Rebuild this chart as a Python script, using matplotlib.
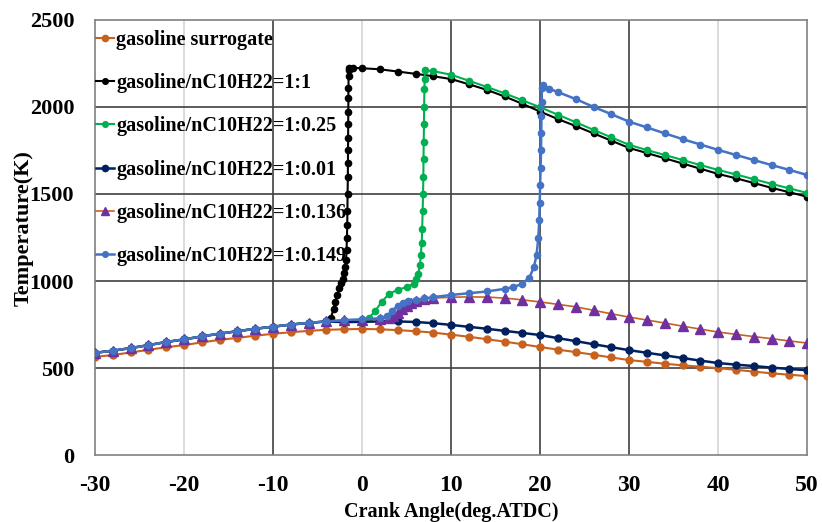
import matplotlib
matplotlib.use("Agg")
import matplotlib.pyplot as plt

# crank angle (deg ATDC) / temperature (K)
base_x = [-30, -28, -26, -24, -22, -20, -18, -16, -14, -12, -10, -8, -6, -4]
base_y = [588, 600, 615, 632, 650, 665, 682, 698, 712, 726, 738, 750, 760, 768]

sur_x = [-30, -28, -26, -24, -22, -20, -18, -16, -14, -12, -10, -8, -6, -4, -2, 0,
         2, 4, 6, 8, 10, 12, 14, 16, 18, 20, 22, 24, 26, 28, 30, 32, 34, 36, 38,
         40, 42, 44, 46, 48, 50]
sur_y = [565, 575, 590, 605, 620, 632, 648, 662, 674, 686, 697, 706, 714, 720, 723, 725,
         723, 718, 712, 704, 692, 680, 666, 652, 637, 621, 606, 592, 577, 561, 546, 536,
         525, 516, 508, 500, 490, 480, 470, 462, 454]

c1_x = base_x + [-3.5, -3.2, -3, -2.8, -2.6, -2.4, -2.2, -2, -1.9, -1.8, -1.75, -1.7, -1.67,
                 -1.65, -1.63, -1.6, -1.59, -1.58, -1.57, -1.56, -1.55, -1.54, -1.53, -1.52,
                 -1.51, -1.5, -1, 0, 2, 4, 6, 8, 10, 12, 14, 16, 18, 20, 22, 24, 26, 28, 30,
                 32, 34, 36, 38, 40, 42, 44, 46, 48, 50]
c1_y = base_y + [790, 840, 880, 920, 960, 990, 1010, 1045, 1080, 1120, 1180, 1250, 1320,
                 1400, 1500, 1600, 1680, 1750, 1820, 1900, 1970, 2050, 2110, 2180, 2210,
                 2222, 2224, 2222, 2216, 2203, 2190, 2176, 2160, 2130, 2098, 2060, 2018, 1973,
                 1930, 1890, 1848, 1806, 1764, 1735, 1705, 1675, 1645, 1615, 1590, 1563,
                 1535, 1510, 1484]

c025_x = base_x + [-2, 0, 0.8, 1.5, 2.2, 3, 4, 5, 5.8, 6.1, 6.3, 6.5, 6.6, 6.7, 6.75, 6.8,
                   6.85, 6.88, 6.9, 6.92, 6.95, 6.97, 7.0, 7.02, 7.05, 8, 10, 12, 14, 16,
                   18, 20, 22, 24, 26, 28, 30, 32, 34, 36, 38, 40, 42, 44, 46, 48, 50]
c025_y = base_y + [774, 778, 790, 830, 880, 925, 950, 965, 985, 1010, 1040, 1090, 1150, 1220,
                   1300, 1400, 1500, 1600, 1700, 1800, 1900, 2000, 2100, 2160, 2210, 2205,
                   2185, 2150, 2115, 2078, 2038, 1998, 1955, 1912, 1868, 1825, 1782, 1752,
                   1724, 1695, 1666, 1638, 1612, 1585, 1558, 1532, 1506]

c001_x = base_x + [-2, 0, 2, 4, 6, 8, 10, 12, 14, 16, 18, 20, 22, 24, 26, 28, 30, 32, 34,
                   36, 38, 40, 42, 44, 46, 48, 50]
c001_y = base_y + [764, 766, 768, 768, 765, 758, 748, 737, 726, 714, 702, 690, 672, 655, 637,
                   620, 603, 588, 573, 558, 543, 529, 520, 512, 503, 495, 488]

c0136_x = base_x + [-2, 0, 2, 3, 3.5, 4, 4.5, 5, 5.5, 6, 7, 8, 10, 12, 14, 16, 18, 20, 22,
                    24, 26, 28, 30, 32, 34, 36, 38, 40, 42, 44, 46, 48, 50]
c0136_y = base_y + [774, 778, 782, 788, 800, 818, 838, 855, 872, 885, 895, 902, 907, 909, 908,
                    902, 892, 880, 866, 852, 832, 812, 793, 776, 759, 741, 724, 707, 694, 681,
                    669, 656, 644]

c0149_x = base_x + [-2, 0, 2, 2.8, 3.4, 4, 4.6, 5.2, 6, 7, 8, 10, 12, 14, 16, 17, 18, 18.8,
                    19.3, 19.6, 19.8, 19.9, 19.95, 20.0, 20.05, 20.1, 20.12, 20.15, 20.17,
                    20.2, 20.3, 21, 22, 24, 26, 28, 30, 32, 34, 36, 38, 40, 42, 44, 46, 48, 50]
c0149_y = base_y + [776, 780, 786, 800, 830, 858, 875, 885, 892, 900, 908, 920, 930, 940, 955,
                    965, 985, 1020, 1080, 1150, 1250, 1350, 1450, 1550, 1650, 1750, 1850, 1950,
                    2030, 2110, 2126, 2105, 2085, 2045, 2000, 1958, 1915, 1882, 1848, 1815,
                    1784, 1753, 1724, 1695, 1666, 1638, 1609]

labels = ["gasoline surrogate", "gasoline/nC10H22=1:1", "gasoline/nC10H22=1:0.25",
          "gasoline/nC10H22=1:0.01", "gasoline/nC10H22=1:0.136", "gasoline/nC10H22=1:0.149"]

plt.rcParams["font.family"] = ["Liberation Serif", "DejaVu Serif"]
plt.rcParams["font.weight"] = "bold"
plt.rcParams["axes.unicode_minus"] = False

fig = plt.figure(figsize=(8.22, 5.22), dpi=100)
ax = fig.add_axes([0.1156, 0.128, 0.8664, 0.834])

orange = "#C8611E"
ax.plot(sur_x, sur_y, color=orange, marker="o", ms=5, lw=1.5, label=labels[0], zorder=3)
ax.plot(c1_x, c1_y, color="black", marker="o", ms=4.5, lw=1.5, label=labels[1], zorder=3)
ax.plot(c025_x, c025_y, color="#00B050", marker="o", ms=4.5, lw=1.5, label=labels[2], zorder=3)
ax.plot(c001_x, c001_y, color="#002060", marker="o", ms=5, lw=1.8, label=labels[3], zorder=3)
ax.plot(c0136_x, c0136_y, color=orange, marker="^", ms=7, mfc="#7030A0", mec="#7030A0",
        lw=1.2, label=labels[4], zorder=3)
ax.plot(c0149_x, c0149_y, color="#4472C4", marker="o", ms=4.5, lw=1.8, label=labels[5], zorder=4)

ax.set_xlim(-30, 50)
ax.set_ylim(0, 2500)
ax.set_xticks(range(-30, 51, 10))
ax.set_yticks(range(0, 2501, 500))

# gridlines: some of the vertical ones are lighter in the original
for v in [-20, 0, 40]:
    ax.axvline(v, color="#d4d4d4", lw=1.2, zorder=1)
for v in [-10, 10, 20, 30]:
    ax.axvline(v, color="#404040", lw=1.2, zorder=1)
for h in [500, 1000, 1500, 2000]:
    ax.axhline(h, color="#404040", lw=1.2, zorder=1)

for s in ax.spines.values():
    s.set_color("#808080")
    s.set_linewidth(1.2)

ax.tick_params(axis="x", length=0, labelsize=17, pad=14)
ax.tick_params(axis="y", length=0, labelsize=16, pad=15)
for t in ax.get_xticklabels() + ax.get_yticklabels():
    t.set_fontweight("bold")
ax.set_xlabel("Crank Angle(deg.ATDC)", fontsize=14.5, fontweight="bold", va="center")
ax.set_ylabel("Temperature(K)", fontsize=16, fontweight="bold", va="center")
ax.xaxis.set_label_coords(0.5, -0.131)
ax.yaxis.set_label_coords(-0.1, 0.522)

ax.legend(loc="upper left", bbox_to_anchor=(-0.01, 0.996), frameon=False,
          prop={"size": 14.5, "weight": "bold"}, labelspacing=1.16,
          handlelength=0.9, handletextpad=0.1, borderaxespad=0.0, markerscale=0.9)

fig.savefig("out.png", dpi=100)
